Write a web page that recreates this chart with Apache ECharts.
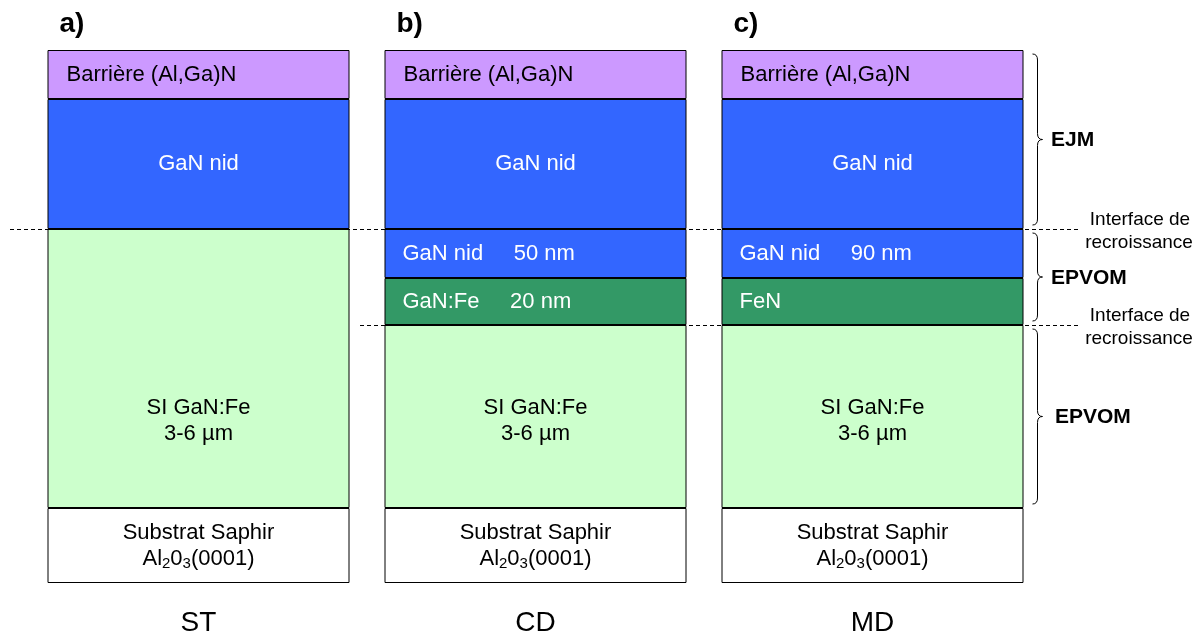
<!DOCTYPE html>
<html>
<head>
<meta charset="utf-8">
<script src="https://cdn.jsdelivr.net/npm/echarts@6/dist/echarts.min.js"></script>
<style>
  html, body { margin: 0; padding: 0; background: #fff; }
  #chart { width: 1204px; height: 637px; }
</style>
</head>
<body>
<div id="chart"></div>
<script>
// structures and panel letters
var columns = ['ST', 'CD', 'MD'];
var panels = ['a)', 'b)', 'c)'];

// layer thickness (schematic units, bottom to top)
var substrat = [75, 75, 75];
var siGaNFe = [279, 183, 183];
var ganFe = ['-', 47, 47];
var ganNidThin = ['-', 49, 49];
var ganNid = [130, 130, 130];
var barriere = [49, 49, 49];

// layer texts
var ganFeLabels = ['', 'GaN:Fe     20 nm', 'FeN'];
var ganNidThinLabels = ['', 'GaN nid     50 nm', 'GaN nid     90 nm'];

// brackets on the right: from / to in stack units, name
var brackets = [
    {from: 354, to: 533, name: 'EJM'},
    {from: 258, to: 354, name: 'EPVOM'},
    {from: 75, to: 258, name: 'EPVOM'}
];
var interfaces = [354, 258];

var chart = echarts.init(document.getElementById('chart'));
var font = '"Liberation Sans", Arial, sans-serif';
var fs = 22;

function layer(name, data, color, label) {
    return {
        name: name,
        type: 'bar',
        stack: 'all',
        barWidth: 302,
        data: data,
        itemStyle: {color: color, borderColor: '#000', borderWidth: 1},
        label: label,
        silent: true
    };
}

// column a: SI GaN:Fe text sits at the same height as in b and c
var siData = siGaNFe.map(function (v, i) {
    return i === 0 ? {value: v, label: {offset: [0, 52]}} : v;
});

var option = {
    animation: false,
    textStyle: {fontFamily: font},
    grid: {left: 30, right: 163, top: 50, bottom: 54},
    xAxis: {
        type: 'category',
        data: columns,
        axisLine: {show: false},
        axisTick: {show: false},
        axisLabel: {color: '#000', fontSize: 28, margin: 26, fontFamily: font}
    },
    yAxis: {
        type: 'value',
        min: 0,
        max: 533,
        show: false
    },
    series: [
        layer('Substrat', substrat, '#ffffff', {
            show: true,
            formatter: '{n|Substrat Saphir}\n{n|Al}{s|2}{n|0}{s|3}{n|(0001)}',
            rich: {
                n: {fontSize: fs, color: '#000', lineHeight: 26, fontFamily: font},
                s: {fontSize: 15, color: '#000', lineHeight: 26, verticalAlign: 'bottom', padding: [14, 0, 0, 0], fontFamily: font}
            }
        }),
        layer('SI GaN:Fe', siData, '#ccffcc', {
            show: true,
            formatter: 'SI GaN:Fe\n3-6 µm',
            fontSize: fs, lineHeight: 26, color: '#000',
            offset: [0, 4]
        }),
        layer('GaN:Fe', ganFe, '#339966', {
            show: true,
            position: 'insideLeft',
            distance: 18,
            formatter: function (p) { return ganFeLabels[p.dataIndex]; },
            fontSize: fs, color: '#fff'
        }),
        layer('GaN nid fin', ganNidThin, '#3366ff', {
            show: true,
            position: 'insideLeft',
            distance: 18,
            formatter: function (p) { return ganNidThinLabels[p.dataIndex]; },
            fontSize: fs, color: '#fff'
        }),
        layer('GaN nid', ganNid, '#3366ff', {
            show: true,
            formatter: 'GaN nid',
            fontSize: fs, color: '#fff'
        }),
        layer('Barrière', barriere, '#cc99ff', {
            show: true,
            position: 'insideLeft',
            distance: 19,
            formatter: 'Barrière (Al,Ga)N',
            fontSize: fs, color: '#000'
        })
    ]
};
chart.setOption(option);

// overlays: panel letters, interface lines, brackets
var g = [];
var xs = columns.map(function (c) { return chart.convertToPixel({xAxisIndex: 0}, c); });
var yTop = chart.convertToPixel({yAxisIndex: 0}, 533);

panels.forEach(function (p, i) {
    g.push({
        type: 'text', x: xs[i] - 151 + 12, y: yTop - 26,
        style: {text: p, font: 'bold 28px ' + font, fill: '#000', align: 'left', verticalAlign: 'middle'}
    });
});

interfaces.forEach(function (v, i) {
    var y = Math.round(chart.convertToPixel({yAxisIndex: 0}, v)) + 0.5;
    var x0 = i === 0 ? 10 : 360;
    g.push({
        type: 'line', shape: {x1: x0, y1: y, x2: 1080, y2: y},
        style: {stroke: '#000', lineWidth: 1, lineDash: [4, 3]}, z: 10
    });
    g.push({
        type: 'text', x: 1140, y: y - 10,
        style: {text: 'Interface de', font: '19px ' + font, fill: '#000', align: 'center', verticalAlign: 'middle'}
    });
    g.push({
        type: 'text', x: 1139, y: y + 13,
        style: {text: 'recroissance', font: '19px ' + font, fill: '#000', align: 'center', verticalAlign: 'middle'}
    });
});

function bez(xa, ya, cx, cy, xb, yb) {
    return {type: 'bezierCurve', shape: {x1: xa, y1: ya, cpx1: cx, cpy1: cy, x2: xb, y2: yb},
        style: {stroke: '#000', lineWidth: 1, fill: null}};
}
function seg(xa, ya, xb, yb) {
    return {type: 'line', shape: {x1: xa, y1: ya, x2: xb, y2: yb}, style: {stroke: '#000', lineWidth: 1}};
}

brackets.forEach(function (b, i) {
    var y1 = chart.convertToPixel({yAxisIndex: 0}, b.to) + 4;
    var y2 = chart.convertToPixel({yAxisIndex: 0}, b.from) - 4;
    var ym = (y1 + y2) / 2;
    var x0 = 1032.5, x1 = 1037.5, x2 = 1042.5;
    g.push(bez(x0, y1, x1, y1, x1, y1 + 6));
    g.push(seg(x1, y1 + 6, x1, ym - 6));
    g.push(bez(x1, ym - 6, x1, ym, x2, ym));
    g.push(bez(x2, ym, x1, ym, x1, ym + 6));
    g.push(seg(x1, ym + 6, x1, y2 - 6));
    g.push(bez(x1, y2 - 6, x1, y2, x0, y2));
    g.push({
        type: 'text', x: i === 2 ? 1055 : 1051, y: ym + 1,
        style: {text: b.name, font: 'bold 21px ' + font, fill: '#000', align: 'left', verticalAlign: 'middle'}
    });
});

chart.setOption({graphic: g});
</script>
</body>
</html>
